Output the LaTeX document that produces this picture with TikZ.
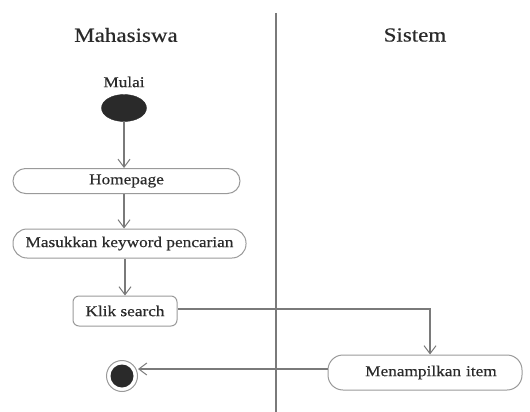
\documentclass[tikz,border=0pt]{standalone}
\usepackage{fontspec}
\setmainfont{Liberation Serif}[FakeStretch=1.15, FakeBold=0.4]
\usetikzlibrary{arrows.meta,shapes.geometric}
\definecolor{linegray}{HTML}{7A7A7A}
\definecolor{boxgray}{HTML}{9A9A9A}
\definecolor{ink}{HTML}{2A2A2A}
\tikzset{
  lane/.style={font=\fontsize{20}{22}\selectfont, text=ink},
  label/.style={font=\fontsize{15}{17}\selectfont, text=ink},
  action/.style={draw=boxgray, line width=1pt, fill=white, label, inner sep=0pt},
  flow/.style={draw=linegray, line width=1.2pt, -{Straight Barb[length=8pt,width=12pt,line width=1pt]}},
}
\begin{document}
\begin{tikzpicture}[x=1pt, y=-1pt]
  \useasboundingbox (0,0) rectangle (530,412);
  % swimlane divider and lane titles
  \draw[draw=linegray, line width=1.2pt] (276,13) -- (276,412);
  \node[lane] (mhs) at (126,35) {Mahasiswa};
  \node[lane] (sys) at (415,35) {Sistem};
  % start node
  \node[label] (mulai) at (124,82) {Mulai};
  \node[ellipse, fill=ink, draw=ink, minimum width=45pt, minimum height=27pt, inner sep=0pt] (start) at (124,108) {};
  % actions
  \node[action, rounded corners=12.5pt, minimum width=227pt, minimum height=25pt] (home) at (126.5,181) {Homepage};
  \node[action, rounded corners=14pt, minimum width=233pt, minimum height=29pt] (keyword) at (129.5,243.5) {Masukkan keyword pencarian};
  \node[action, rounded corners=6pt, minimum width=104pt, minimum height=30pt] (klik) at (125,311) {Klik search};
  \node[action, rounded corners=15pt, minimum width=194pt, minimum height=35pt, text width=194pt, align=center] (tampil) at (425,372.5) {\hspace*{12pt}Menampilkan item};
  % final node
  \node[circle, draw=boxgray, line width=1pt, fill=white, minimum size=31pt, inner sep=0pt] (end) at (122,376) {};
  \node[circle, fill=ink, minimum size=23pt, inner sep=0pt] (endcore) at (end.center) {};
  % control flow
  \draw[flow] (start.south) -- (start.south |- home.north);
  \draw[flow] (home.south -| start.south) -- (keyword.north -| start.south);
  \draw[flow] (keyword.south -| klik.north) -- (klik.north);
  \draw[flow] ([yshift=2pt]klik.east) -| ([xshift=5pt]tampil.north);
  \draw[flow] ([yshift=3.5pt]tampil.west) -- ([yshift=3.5pt]tampil.west -| end.east);
\end{tikzpicture}
\end{document}
